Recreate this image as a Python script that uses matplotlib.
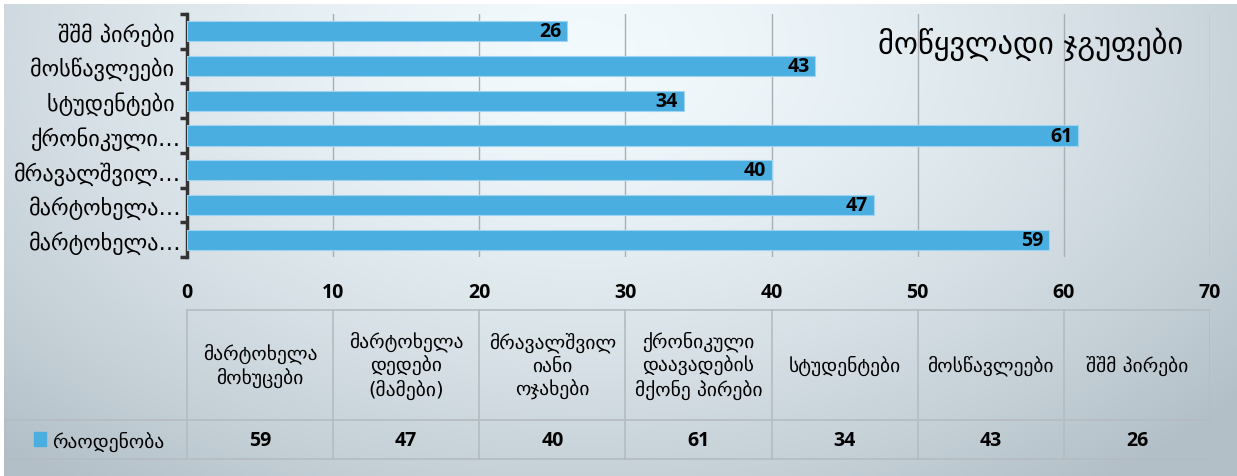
import numpy as np
import matplotlib.pyplot as plt

# -----------------------------
# Data
# -----------------------------
categories = [
    "მარტოხელა მოხუცები",
    "მარტოხელა დედები (მამები)",
    "მრავალშვილიანი ოჯახები",
    "ქრონიკული დაავადების მქონე პირები",
    "სტუდენტები",
    "მოსწავლეები",
    "შშმ პირები",
]
axis_labels = [
    "მარტოხელა…",
    "მარტოხელა…",
    "მრავალშვილ…",
    "ქრონიკული…",
    "სტუდენტები ",
    "მოსწავლეები ",
    "შშმ პირები ",
]
table_headers = [
    "მარტოხელა\nმოხუცები",
    "მარტოხელა\nდედები\n(მამები)",
    "მრავალშვილ\nიანი\nოჯახები",
    "ქრონიკული\nდაავადების\nმქონე პირები",
    "სტუდენტები",
    "მოსწავლეები",
    "შშმ პირები",
]
counts = [59, 47, 40, 61, 34, 43, 26]
series_name = "რაოდენობა"
title = "მოწყვლადი ჯგუფები"

BAR = "#4aaee0"
GEO = "DejaVu Sans"
NUM = "Open Sans"

W, H = 1237, 477
fig = plt.figure(figsize=(W / 100, H / 100), dpi=100)

def px_axes(x0, y0, x1, y1):
    return fig.add_axes([x0 / W, 1 - y1 / H, (x1 - x0) / W, (y1 - y0) / H])

# -----------------------------
# Background gradient
# -----------------------------
bg = px_axes(4, 5, W, H)
xx, yy = np.meshgrid(np.linspace(0, 1, 400), np.linspace(0, 1, 160))
t = np.clip(((xx - 0.47) / 0.7) ** 2 + ((yy - 0.1) / 1.15) ** 2, 0, 1) ** 0.75
light = np.array([0.95, 0.98, 0.995])
dark = np.array([0.70, 0.75, 0.78])
img = light[None, None, :] * (1 - t[..., None]) + dark[None, None, :] * t[..., None]
bg.imshow(img, aspect="auto", extent=[0, 1, 1, 0])
bg.axis("off")

# -----------------------------
# Bar chart (first category at the bottom)
# -----------------------------
x0px, x70px = 187, 1210
ax = px_axes(x0px, 15, x70px, 258)
ax.set_facecolor("none")
y = np.arange(len(counts))
ax.barh(y, counts, height=0.58, color=BAR, edgecolor="#9fd3ef", linewidth=0.8, zorder=3)
for yi, v in zip(y, counts):
    ax.text(v - 0.4, yi, str(v), ha="right", va="center", fontsize=14,
            fontweight="bold", family=NUM, zorder=4)
ax.set_xlim(0, 70)
ax.set_ylim(-0.5, len(counts) - 0.5)
ax.set_xticks(range(0, 71, 10))
ax.xaxis.grid(True, color="#a8b0b4", linewidth=1, zorder=0)
ax.set_xticklabels([str(v) for v in range(0, 71, 10)], family=NUM, fontweight="bold", fontsize=14)
ax.tick_params(axis="x", length=0, pad=18)
ax.set_yticks(y)
ax.set_yticklabels(axis_labels, family=GEO, fontsize=16)
ax.tick_params(axis="y", length=0, pad=4)
ax.set_yticks(np.arange(-0.5, len(counts)), minor=True)
ax.tick_params(axis="y", which="minor", length=5, width=2.5, color="#333333", direction="out")
for s in ["top", "right", "bottom"]:
    ax.spines[s].set_visible(False)
ax.spines["left"].set_color("#333333")
ax.spines["left"].set_linewidth(2.5)

ax.text(0.825, 0.88, title, transform=ax.transAxes, ha="center", va="center",
        family=GEO, fontsize=22)

# -----------------------------
# Data table
# -----------------------------
unit = (x70px - x0px) / 70.0
left_x = (5 - x0px) / unit
tb = px_axes(5, 310, x70px, 461)
tb.set_xlim(left_x, 70)
tb.set_ylim(461, 310)
tb.axis("off")
grid_c = "#b4bcc0"
row_top, row_mid, row_bot = 311, 421, 460
tb.plot([0, 70], [row_top, row_top], color=grid_c, lw=1.2)
tb.plot([left_x, 70], [row_mid, row_mid], color=grid_c, lw=1.2)
tb.plot([left_x, 70], [row_bot, row_bot], color=grid_c, lw=1.2)
tb.plot([left_x, left_x], [row_mid, row_bot], color=grid_c, lw=1.2)
for i in range(len(counts) + 1):
    tb.plot([i * 10, i * 10], [row_top, row_bot], color=grid_c, lw=1.2)
for i, (hdr, v) in enumerate(zip(table_headers, counts)):
    cx = i * 10 + 5
    tb.text(cx, (row_top + row_mid) / 2, hdr, ha="center", va="center",
            family=GEO, fontsize=14, linespacing=1.25)
    tb.text(cx, (row_mid + row_bot) / 2 + 1, str(v), ha="center", va="center",
            family=NUM, fontweight="bold", fontsize=14)
# legend key
tb.add_patch(plt.Rectangle((left_x + 2.0, 433), 0.8, 14, color=BAR))
tb.text(left_x + 3.2, (row_mid + row_bot) / 2 + 1, series_name, ha="left", va="center",
        family=GEO, fontsize=14)

fig.savefig("out.png", dpi=100)
